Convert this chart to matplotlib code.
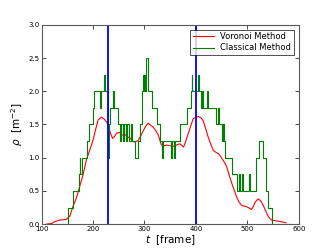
import matplotlib
matplotlib.use('Agg')
import matplotlib.pyplot as plt

# Voronoi method density (smooth curve)
t_vor = [110, 120, 126, 135, 148, 155, 161, 168, 174, 181, 187, 194, 200, 205, 210,
         216, 222, 227, 231, 234, 238, 242, 246, 252, 257, 262, 268, 273, 278, 283,
         288, 293, 298, 303, 307, 312, 317, 322, 327, 330, 333, 338, 343, 350, 356,
         362, 369, 373, 376, 380, 385, 390, 395, 400, 405, 410, 414, 419, 424, 429,
         434, 439, 444, 448, 453, 457, 460, 465, 470, 475, 479, 484, 489, 494, 499,
         504, 508, 512, 515, 521, 526, 531, 536, 541, 547, 555, 563, 570, 575]
rho_vor = [0.0, 0.01, 0.04, 0.06, 0.07, 0.12, 0.26, 0.4, 0.56, 0.75, 0.96, 1.12, 1.26, 1.42, 1.57,
           1.61, 1.58, 1.53, 1.45, 1.37, 1.29, 1.32, 1.37, 1.38, 1.34, 1.35, 1.31, 1.29, 1.24, 1.24,
           1.26, 1.33, 1.41, 1.48, 1.52, 1.49, 1.46, 1.41, 1.34, 1.26, 1.19, 1.18, 1.19, 1.18, 1.17,
           1.19, 1.21, 1.18, 1.16, 1.24, 1.36, 1.48, 1.59, 1.61, 1.62, 1.60, 1.56, 1.44, 1.31, 1.20,
           1.11, 1.08, 1.06, 1.02, 0.96, 0.91, 0.86, 0.73, 0.61, 0.50, 0.41, 0.33, 0.28, 0.27, 0.26,
           0.24, 0.22, 0.27, 0.33, 0.38, 0.35, 0.28, 0.19, 0.11, 0.06, 0.05, 0.04, 0.03, 0.02]

# Classical method density (stepwise)
t_cls = [120, 151, 162, 172, 174, 175, 178, 188, 192, 200, 202, 214, 216, 221, 223,
         230, 232, 234, 238, 240, 249, 252, 254, 258, 260, 264, 266, 270, 273, 276,
         281, 288, 291, 295, 297, 299, 301, 302, 304, 306, 314, 324, 330, 335, 337,
         352, 354, 358, 360, 369, 382, 390, 392, 393, 404, 406, 410, 412, 414, 421,
         423, 440, 443, 445, 450, 453, 455, 457, 470, 479, 483, 485, 489, 491, 503,
         505, 517, 523, 530, 536, 540, 548, 580]
rho_cls = [0.0, 0.25, 0.5, 0.75, 1.0, 0.75, 1.0, 1.25, 1.5, 1.75, 2.0, 1.75, 2.0, 2.25, 2.0,
           1.0, 1.5, 1.75, 2.0, 1.75, 1.5, 1.25, 1.5, 1.25, 1.5, 1.25, 1.5, 1.25, 1.5, 1.25,
           1.0, 1.25, 1.5, 2.0, 2.25, 2.0, 2.25, 2.0, 2.5, 2.0, 1.75, 1.5, 1.25, 1.0, 1.25,
           1.0, 1.25, 1.0, 1.25, 1.5, 1.75, 2.0, 2.25, 2.0, 2.25, 2.0, 1.75, 2.0, 1.75, 2.0,
           1.75, 1.5, 1.75, 1.5, 1.25, 1.5, 1.25, 1.0, 0.75, 0.5, 0.75, 0.5, 0.75, 0.5, 0.75,
           0.5, 1.0, 1.25, 1.0, 0.5, 0.25, 0.0, 0.0]

# measurement area entry/exit frames
t_marks = [230, 400]

fig = plt.figure(figsize=(3.32, 2.49), dpi=100)
ax = fig.add_axes([0.125, 0.1, 0.775, 0.8])

ax.plot(t_vor, rho_vor, color='r', lw=0.8, label='Voronoi Method')
ax.plot(t_cls, rho_cls, color='g', lw=0.8, drawstyle='steps-post', label='Classical Method')
for tm in t_marks:
    ax.axvline(tm, color='b', lw=1.3)

ax.set_xlim(100, 600)
ax.set_ylim(0, 3.0)
ax.set_xticks([100, 200, 300, 400, 500, 600])
ax.set_yticks([0.0, 0.5, 1.0, 1.5, 2.0, 2.5, 3.0])
ax.set_yticklabels(['0.0', '0.5', '1.0', '1.5', '2.0', '2.5', '3.0'])
ax.tick_params(direction='in', top=True, right=True, labelsize=5, length=3, width=0.5, pad=1.5)
for s in ax.spines.values():
    s.set_linewidth(0.8)
    s.set_color('0.35')

ax.set_xlabel(r'$t$  [frame]', fontsize=7.5, labelpad=1)
ax.set_ylabel(r'$\rho$  [m$^{-2}$]', fontsize=7.5, labelpad=2)

leg = ax.legend(loc='upper right', fontsize=6, fancybox=False, handlelength=2.5,
                borderpad=0.3, labelspacing=0.25, borderaxespad=0.6)
leg.get_frame().set_edgecolor('k')
leg.get_frame().set_linewidth(0.6)

fig.savefig('out.png', dpi=100)
